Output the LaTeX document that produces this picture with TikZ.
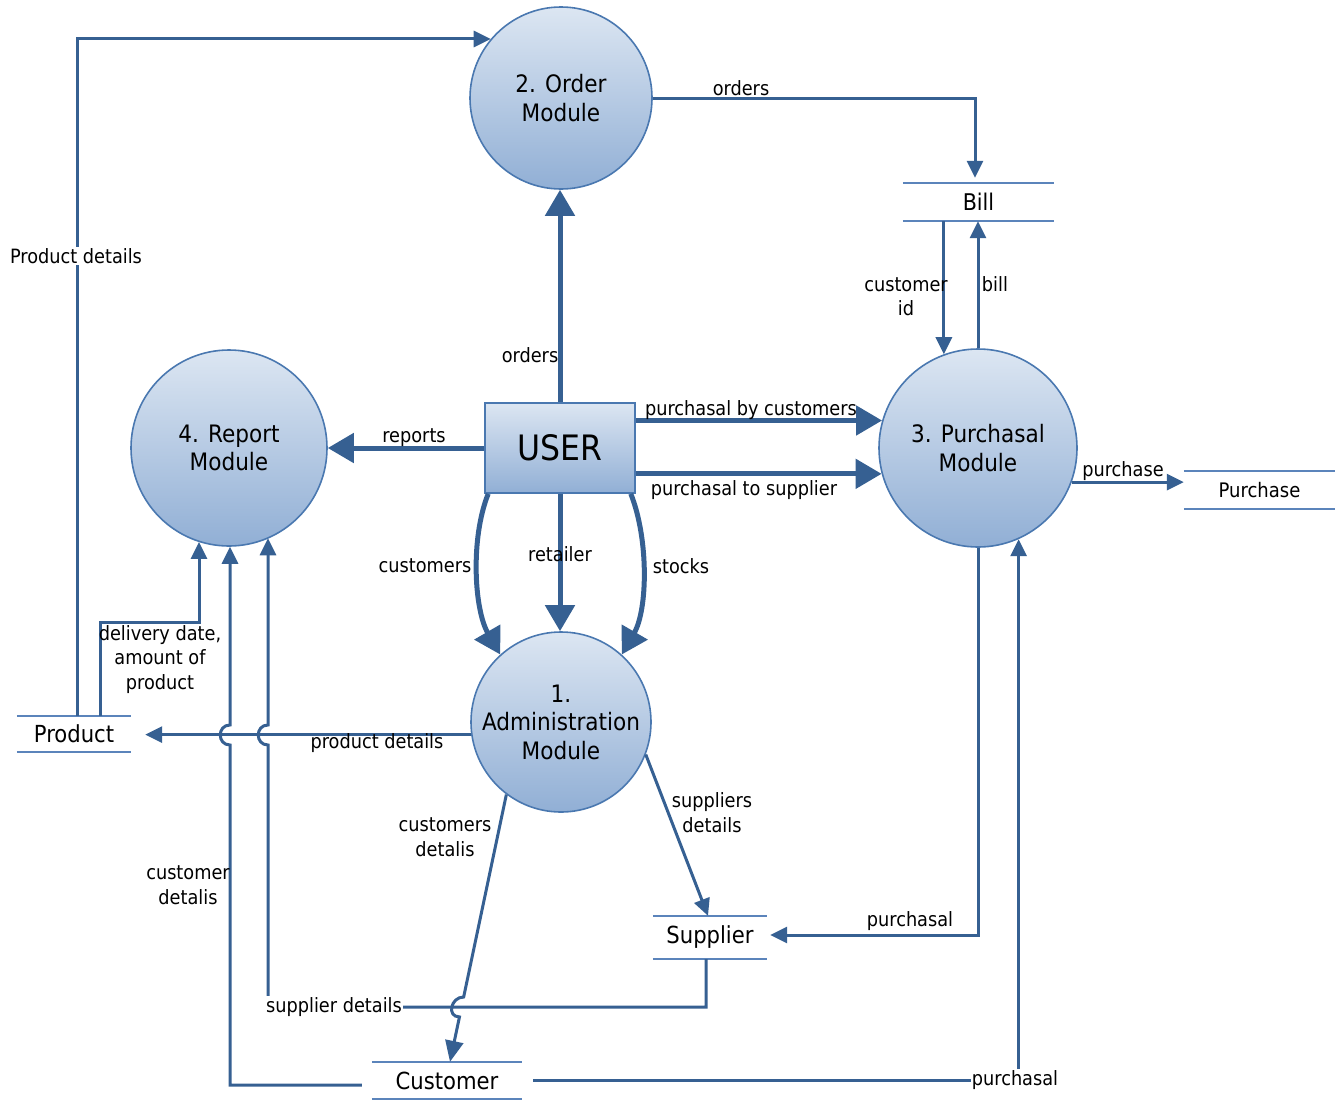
\documentclass[tikz,border=0pt]{standalone}
\usepackage{fontspec}
\setmainfont{DejaVu Sans Condensed}
\usetikzlibrary{arrows.meta,calc}
\definecolor{conn}{RGB}{54,96,146}
\definecolor{procedge}{RGB}{74,120,176}
\definecolor{storecol}{RGB}{91,132,187}
\definecolor{filltop}{RGB}{220,230,242}
\definecolor{fillbot}{RGB}{145,175,213}
\begin{document}
\begin{tikzpicture}[x=1pt,y=-1pt,
  proc/.style={circle, draw=procedge, line width=1.6pt, top color=filltop, bottom color=fillbot,
    align=center, inner sep=0pt, font=\fontsize{24}{28.5}\selectfont},
  entity/.style={rectangle, draw=procedge, line width=1.6pt, top color=filltop, bottom color=fillbot,
    minimum width=150pt, minimum height=90pt, inner sep=0pt, font=\fontsize{35}{40}\selectfont},
  store/.style={inner sep=0pt, font=\fontsize{23.5}{28}\selectfont},
  storeline/.style={draw=storecol, line width=1.6pt},
  flow/.style={draw=conn, line width=3pt, -{Triangle[length=17pt,width=16pt]}},
  bigflow/.style={draw=conn, line width=5pt, -{Triangle[length=26pt,width=29pt]}},
  lbl/.style={font=\fontsize{19.7}{24.5}\selectfont, align=center, inner sep=1pt, text=black},
  mask/.style={fill=white}]
\useasboundingbox (0,0) rectangle (1341,1101);

% processes and the external entity
\node[proc, minimum size=182pt] (order) at (561,98) {2. Order\\Module};
\node[proc, minimum size=196pt] (report) at (229,448) {4. Report\\Module};
\node[proc, minimum size=198pt] (pur) at (978,448) {3. Purchasal\\Module};
\node[proc, minimum size=180pt] (admin) at (561,722) {1.\\Administration\\Module};
\node[entity] (user) at (560,448) {USER};

% data stores
\node[store, minimum width=151pt, minimum height=38pt, font=\fontsize{23}{28}\selectfont] (bill) at (978.5,202) {Bill};
\node[store, minimum width=151pt, minimum height=38pt, font=\fontsize{20}{24}\selectfont] (purchase) at (1259.5,490) {Purchase};
\node[store, minimum width=114pt, minimum height=36pt] (product) at (74,734) {Product};
\node[store, minimum width=114pt, minimum height=43pt] (supplier) at (710,937.5) {Supplier};
\node[store, minimum width=150pt, minimum height=37pt] (customer) at (447,1080.5) {Customer};
\foreach \s in {bill,purchase,product,supplier,customer}
  \draw[storeline] (\s.north west) -- (\s.north east) (\s.south west) -- (\s.south east);

% bend points and line jumps
\coordinate (dbend) at (199,622);
\coordinate (cj1) at (230,745);
\coordinate (cj2) at (230,725);
\coordinate (sbend) at (268,1007);
\coordinate (sj1) at (268,745);
\coordinate (sj2) at (268,725);
\coordinate (dend) at ([xshift=3pt]customer.north);
\coordinate (dj1) at ($(admin.233)!0.7575!(dend)$);
\coordinate (dj2) at ($(admin.233)!0.8321!(dend)$);

% flows out of USER
\draw[bigflow] (user.north) -- (user.north |- order.south);
\draw[bigflow] (user.west) -- (report.east);
\draw[bigflow] (pur.164.2 -| user.east) -- (pur.164.2);
\draw[bigflow] (pur.195.8 -| user.east) -- (pur.195.8);
\draw[bigflow] (user.south) -- (user.south |- admin.north);
\draw[bigflow] ([xshift=4pt]user.south west) .. controls +(-18,45) and +(-26,-45) .. (admin.132);
\draw[bigflow] ([xshift=-5pt]user.south east) .. controls +(18,45) and +(26,-45) .. (admin.48);

% order and bill flows
\draw[flow] (order.east) -| ([xshift=-3.5pt,yshift=5pt]bill.north);
\draw[flow] (pur.110.7 |- bill.south) -- (pur.110.7);
\draw[flow] (pur.north) -- (pur.north |- bill.south);
\draw[flow] (pur.-20) -- (pur.-20 -| purchase.west);

% product flows
\draw[flow] ([xshift=3pt]product.north) |- (order.140);
\draw[flow] ([xshift=26pt]product.north) |- (dbend) -- (dbend |- report.252.2);
\draw[flow, shorten >=14pt] (admin.188.3) -- (admin.188.3 -| product.east);

% customer and supplier details into the report module
\draw[flow] ([xshift=-10pt,yshift=-4.5pt]customer.west) -| (cj1)
  .. controls +(-13,0) and +(-13,0) .. (cj2) -- (cj2 |- report.south);
\draw[flow] ([xshift=-4pt]supplier.south) |- (sbend) -- (sj1)
  .. controls +(-13,0) and +(-13,0) .. (sj2) -- (sj2 |- report.-66.55);

% administration to stores
\draw[flow, -{Triangle[length=21pt,width=18pt]}] (admin.233) -- (dj1) .. controls +(-13,0) and +(-13,0) .. (dj2) -- (dend);
\draw[flow] (admin.-21) -- ([xshift=-2pt]supplier.north);

% purchasal flows
\draw[flow, shorten >=3pt] (pur.south) |- ([yshift=2.5pt]supplier.east);
\draw[flow] ([xshift=11pt]customer.east) -| (pur.-66.8);

% labels
\node[lbl] (l1) at (741,88) {orders};
\node[lbl] (l2) at (530,355) {orders};
\node[lbl, mask] (l3) at (76,256) {Product details};
\node[lbl] (l4) at (906,296.5) {customer\\id};
\node[lbl] (l5) at (995,284) {bill};
\node[lbl] (l6) at (414,438) {reports};
\node[lbl] (l7) at (751,410) {purchasal by customers};
\node[lbl] (l8) at (744,490) {purchasal to supplier};
\node[lbl] (l9) at (1123,471) {purchase};
\node[lbl] (l10) at (425,566) {customers};
\node[lbl] (l11) at (560,554) {retailer};
\node[lbl] (l12) at (681,566) {stocks};
\node[lbl] (l13) at (160,659.5) {delivery date,\\amount of\\product};
\node[lbl] (l14) at (377,743) {product details};
\node[lbl] (l15) at (445,837) {customers\\detalis};
\node[lbl] (l16) at (712,812.5) {suppliers\\details};
\node[lbl] (l17) at (188,885) {customer\\detalis};
\node[lbl] (l18) at (910,921) {purchasal};
\node[lbl, mask] (l19) at (334,1007) {supplier details};
\node[lbl, mask] (l20) at (1015,1080) {purchasal};
\end{tikzpicture}
\end{document}
